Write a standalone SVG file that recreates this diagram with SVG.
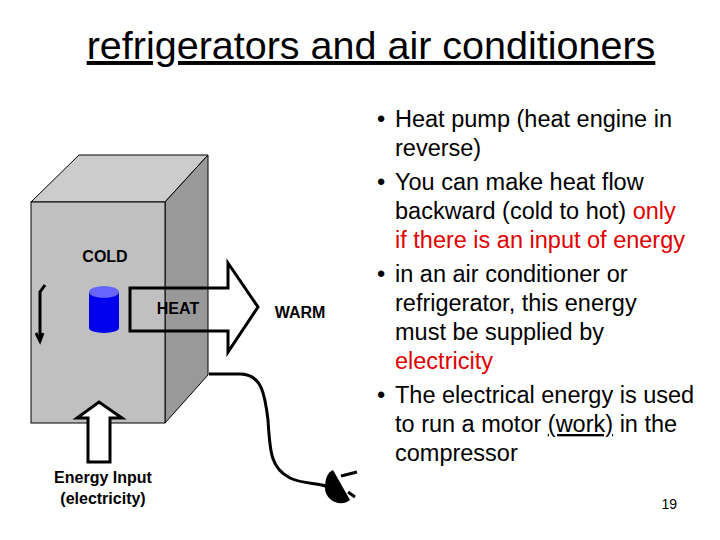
<svg xmlns="http://www.w3.org/2000/svg" width="720" height="540" viewBox="0 0 720 540">
<style>
text{font-family:"Liberation Sans",Arial,sans-serif;}
.lbl{font-weight:bold;font-size:16px;text-anchor:middle;}
.b{font-size:23.5px;fill:#000;}
.r{fill:#e00000;}
</style>
<rect width="720" height="540" fill="#fff"/>
<text x="371" y="59" font-size="39.5" text-anchor="middle" text-decoration="underline">refrigerators and air conditioners</text>
<g id="box">
<polygon points="31,202 79,155 208,155 165,202" fill="#ccc" stroke="#000"/>
<polygon points="165,202 208,155 208,375 165,423" fill="#999" stroke="#000"/>
<rect x="31" y="202" width="134" height="221" fill="#c0c0c0" stroke="#000"/>
</g>
<g id="cylinder">
<path d="M89,292 V328 A15,5 0 0 0 119,328 V292 Z" fill="#0000ee"/>
<ellipse cx="104" cy="292" rx="15" ry="6" fill="#6666ff"/>
</g>
<g id="heat-arrow">
<path d="M130,288 H228 V263 L258,307 L228,352 V331 H130 Z" fill="none" stroke="#000" stroke-width="3"/>
</g>
<g id="energy-arrow">
<path d="M88,462 V418 H77 L99,402 L122,418 H110 V462 Z" fill="#fff" stroke="#000" stroke-width="3"/>
</g>
<g id="connectors">
<path d="M45,285 L40,292 V338" fill="none" stroke="#000" stroke-width="3"/>
<path d="M36,333 L40,341 L43,333" fill="none" stroke="#000" stroke-width="3"/>
<path d="M209,374 H240 C262,374 265,395 268,420 C270,450 270,468 290,478 C305,485 318,482 328,487" fill="none" stroke="#000" stroke-width="3"/>
</g>
<g id="plug">
<path d="M333,470 L350,500 C340,508 325,500 325,488 C325,478 328,472 333,470 Z" fill="#000"/>
<path d="M341,476 L357,472 M348,492 L355,497" stroke="#000" stroke-width="3"/>
</g>
<text class="lbl" x="105" y="262">COLD</text>
<text class="lbl" x="178" y="314">HEAT</text>
<text class="lbl" x="300" y="318">WARM</text>
<text class="lbl" x="103" y="483">Energy Input</text>
<text class="lbl" x="103" y="504">(electricity)</text>
<g id="bullets" class="b">
<text x="377" y="127">•</text><text x="395" y="127">Heat pump (heat engine in</text>
<text x="395" y="156">reverse)</text>
<text x="377" y="190">•</text><text x="395" y="190">You can make heat flow</text>
<text x="395" y="219">backward (cold to hot) <tspan class="r">only</tspan></text>
<text x="395" y="248" class="r">if there is an input of energy</text>
<text x="377" y="282">•</text><text x="395" y="282">in an air conditioner or</text>
<text x="395" y="311">refrigerator, this energy</text>
<text x="395" y="340">must be supplied by</text>
<text x="395" y="369" class="r">electricity</text>
<text x="377" y="403">•</text><text x="395" y="403">The electrical energy is used</text>
<text x="395" y="432">to run a motor <tspan text-decoration="underline">(work)</tspan> in the</text>
<text x="395" y="461">compressor</text>
</g>
<text x="677" y="509" font-size="14" text-anchor="end">19</text>
</svg>
